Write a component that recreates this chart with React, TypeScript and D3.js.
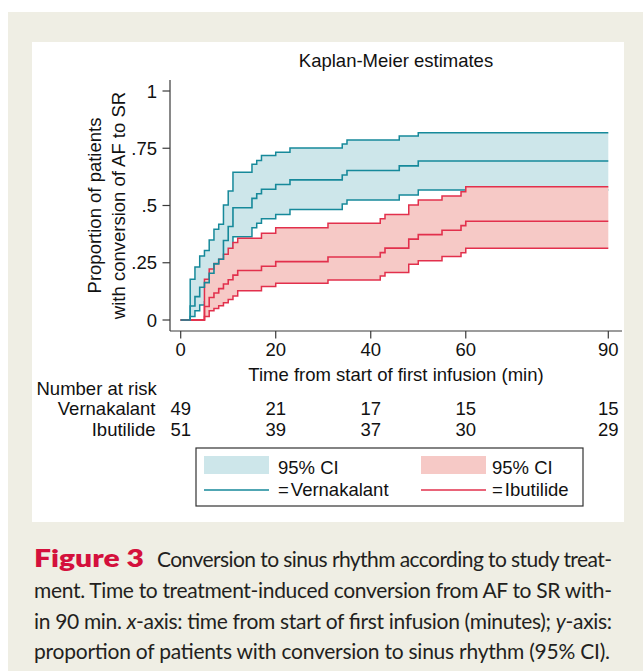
import React from 'react';
import * as d3 from 'd3';

// Vernakalant Kaplan-Meier estimate with 95% CI
const vTimes = [0, 2, 3, 4, 5, 6, 7, 8, 9, 10, 11, 15, 16, 17, 20, 23, 34, 35, 46, 50, 90];
const vEst = [0, 0.061, 0.102, 0.143, 0.163, 0.204, 0.245, 0.265, 0.347, 0.408, 0.49, 0.531, 0.551, 0.571, 0.592, 0.612, 0.633, 0.653, 0.673, 0.694, 0.694];
const vLow = [0, 0.015, 0.04, 0.065, 0.08, 0.11, 0.14, 0.155, 0.225, 0.28, 0.364, 0.403, 0.422, 0.442, 0.461, 0.483, 0.507, 0.524, 0.546, 0.568, 0.568];
const vUp = [0, 0.178, 0.231, 0.279, 0.303, 0.349, 0.396, 0.418, 0.502, 0.563, 0.645, 0.68, 0.697, 0.718, 0.732, 0.751, 0.769, 0.786, 0.803, 0.818, 0.818];

// Ibutilide Kaplan-Meier estimate with 95% CI
const iTimes = [0, 5, 6, 7, 8, 9, 10, 11, 12, 17, 20, 31, 42, 43, 48, 50, 55, 59, 60, 90];
const iEst = [0, 0.059, 0.098, 0.118, 0.137, 0.157, 0.176, 0.196, 0.216, 0.235, 0.255, 0.275, 0.294, 0.314, 0.353, 0.373, 0.392, 0.412, 0.431, 0.431];
const iLow = [0, 0.015, 0.04, 0.05, 0.062, 0.075, 0.09, 0.105, 0.128, 0.146, 0.16, 0.175, 0.192, 0.207, 0.243, 0.259, 0.277, 0.294, 0.313, 0.313];
const iUp = [0, 0.178, 0.223, 0.247, 0.265, 0.287, 0.313, 0.338, 0.357, 0.379, 0.403, 0.422, 0.442, 0.461, 0.502, 0.524, 0.541, 0.56, 0.582, 0.582];

const xTicks = [0, 20, 40, 60, 90];
const yTicks = [0, 0.25, 0.5, 0.75, 1];
const yTickLabels = ['0', '.25', '.5', '.75', '1'];

const riskTimes = [0, 20, 40, 60, 90];
const vRisk = [49, 21, 17, 15, 15];
const iRisk = [51, 39, 37, 30, 29];

const TEAL = '#16899a';
const TEAL_FILL = '#cde6ea';
const RED = '#e2304c';
const RED_FILL = '#f6c9c6';
const AXIS = '#3a3a3a';
const FONT = '"Liberation Sans", Arial, Helvetica, sans-serif';
const CAP_FONT = 'Lato, "Open Sans", sans-serif';

export default function App() {
  const x = d3.scaleLinear().domain([0, 90]).range([180.7, 608.3]);
  const y = d3.scaleLinear().domain([0, 1]).range([320, 91]);

  const line = (times: number[], vals: number[]) =>
    d3
      .line<number>()
      .x((_, i) => x(times[i]))
      .y((d) => y(d))
      .curve(d3.curveStepAfter)(vals) || '';

  const area = (times: number[], lo: number[], hi: number[]) =>
    d3
      .area<number>()
      .x((t) => x(t))
      .y0((_, i) => y(lo[i]))
      .y1((_, i) => y(hi[i]))
      .curve(d3.curveStepAfter)(times) || '';

  const fs = 18.5;

  return (
    <svg width={643} height={671} style={{ position: 'absolute', left: 0, top: 0 }} fontFamily={FONT}>
      <rect x={0} y={0} width={643} height={671} fill="#ffffff" />
      <rect x={8} y={12} width={635} height={659} fill="#efeee4" />
      <rect x={32} y={42} width={592} height={480} fill="#ffffff" />

      {/* title */}
      <text x={396} y={67} textAnchor="middle" fontSize={fs} fill="#111">Kaplan-Meier estimates</text>

      {/* CI bands */}
      <path d={area(vTimes, vLow, vUp)} fill={TEAL_FILL} />
      <path d={line(vTimes, vUp)} fill="none" stroke={TEAL} strokeWidth={1.5} />
      <path d={line(vTimes, vLow)} fill="none" stroke={TEAL} strokeWidth={1.5} />
      <path d={area(iTimes, iLow, iUp)} fill={RED_FILL} />
      <path d={line(iTimes, iUp)} fill="none" stroke={RED} strokeWidth={1.5} />
      <path d={line(iTimes, iLow)} fill="none" stroke={RED} strokeWidth={1.5} />
      {/* estimates */}
      <path d={line(iTimes, iEst)} fill="none" stroke={RED} strokeWidth={1.6} />
      <path d={line(vTimes, vEst)} fill="none" stroke={TEAL} strokeWidth={1.6} />

      {/* y axis */}
      <line x1={170} y1={80} x2={170} y2={331} stroke={AXIS} strokeWidth={1.2} />
      {yTicks.map((t, i) => (
        <g key={'y' + i}>
          <line x1={162.5} x2={170} y1={y(t)} y2={y(t)} stroke={AXIS} strokeWidth={1.2} />
          <text x={157} y={y(t) + 6.6} textAnchor="end" fontSize={fs} fill="#111">{yTickLabels[i]}</text>
        </g>
      ))}
      <g transform="translate(101,205.5) rotate(-90)">
        <text x={0} y={0} textAnchor="middle" fontSize={fs} fill="#111">Proportion of patients</text>
      </g>
      <g transform="translate(124.5,205.5) rotate(-90)">
        <text x={0} y={0} textAnchor="middle" fontSize={fs} fill="#111">with conversion of AF to SR</text>
      </g>

      {/* x axis */}
      <line x1={170} y1={331} x2={622} y2={331} stroke={AXIS} strokeWidth={1.2} />
      {xTicks.map((t, i) => (
        <g key={'x' + i}>
          <line x1={x(t)} x2={x(t)} y1={331} y2={338.5} stroke={AXIS} strokeWidth={1.2} />
          <text x={x(t)} y={356} textAnchor="middle" fontSize={fs} fill="#111">{t}</text>
        </g>
      ))}
      <text x={396} y={381} textAnchor="middle" fontSize={fs} fill="#111">Time from start of first infusion (min)</text>

      {/* number at risk */}
      <text x={36.5} y={395} fontSize={fs} fill="#111">Number at risk</text>
      <text x={155.5} y={415} textAnchor="end" fontSize={fs} fill="#111">Vernakalant</text>
      <text x={155.5} y={436} textAnchor="end" fontSize={fs} fill="#111">Ibutilide</text>
      {riskTimes.map((t, i) => (
        <g key={'r' + i}>
          <text x={x(t)} y={415} textAnchor="middle" fontSize={fs} fill="#111">{vRisk[i]}</text>
          <text x={x(t)} y={436} textAnchor="middle" fontSize={fs} fill="#111">{iRisk[i]}</text>
        </g>
      ))}

      {/* legend */}
      <rect x={196} y={448} width={387} height={58} fill="#fff" stroke="#333" strokeWidth={1.2} />
      <rect x={204} y={456} width={65} height={18} fill={TEAL_FILL} />
      <text x={278} y={474} fontSize={fs} fill="#111">95% CI</text>
      <line x1={204} x2={269} y1={490} y2={490} stroke={TEAL} strokeWidth={1.5} />
      <text x={278} y={496} fontSize={fs} fill="#111">=<tspan dx={2}>Vernakalant</tspan></text>
      <rect x={421} y={456} width={65} height={18} fill={RED_FILL} />
      <text x={492} y={474} fontSize={fs} fill="#111">95% CI</text>
      <line x1={421} x2={486} y1={490} y2={490} stroke={RED} strokeWidth={1.5} />
      <text x={492} y={496} fontSize={fs} fill="#111">=<tspan dx={2}>Ibutilide</tspan></text>

      {/* caption */}
      <g fontFamily={CAP_FONT} fontSize={21} fill="#231f20">
        <text x={34} y={567} fontWeight={800} fill="#d4103c" fontSize={24} textLength={110} lengthAdjust="spacingAndGlyphs">Figure 3</text>
        <text x={157} y={567} textLength={455} lengthAdjust="spacing">Conversion to sinus rhythm according to study treat-</text>
        <text x={34} y={598} textLength={578} lengthAdjust="spacing">ment. Time to treatment-induced conversion from AF to SR with-</text>
        <text x={34} y={629} textLength={578} lengthAdjust="spacing">
          in 90 min. <tspan fontStyle="italic">x</tspan>-axis: time from start of first infusion (minutes); <tspan fontStyle="italic">y</tspan>-axis:
        </text>
        <text x={34} y={659} textLength={576} lengthAdjust="spacing">proportion of patients with conversion to sinus rhythm (95% CI).</text>
      </g>
    </svg>
  );
}
